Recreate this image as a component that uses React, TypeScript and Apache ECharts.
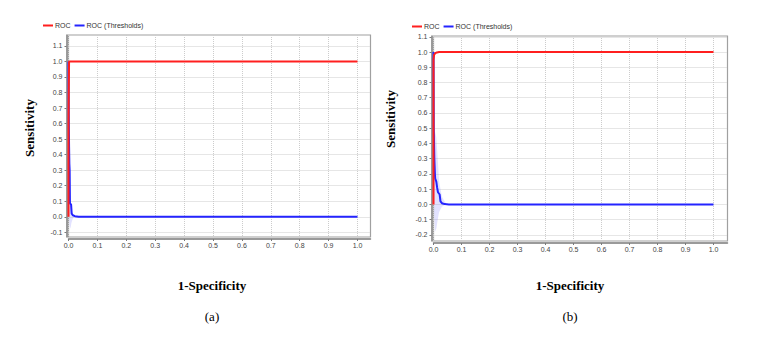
import { useEffect, useRef } from "react";
import * as echarts from "echarts";

// ---- tick labels ----
const xTickValues = [0.0, 0.1, 0.2, 0.3, 0.4, 0.5, 0.6, 0.7, 0.8, 0.9, 1.0];
const yTickValuesA = [-0.1, 0.0, 0.1, 0.2, 0.3, 0.4, 0.5, 0.6, 0.7, 0.8, 0.9, 1.0, 1.1];
const yTickValuesB = [-0.2, -0.1, 0.0, 0.1, 0.2, 0.3, 0.4, 0.5, 0.6, 0.7, 0.8, 0.9, 1.0, 1.1];

const seriesNames = ["ROC", "ROC (Thresholds)"];

// ---- chart (a) ----
const rocAX = [0, 0, 0.001, 0.002, 1.0];
const rocAY = [0, 0.6, 0.84, 1.0, 1.0];
const thrAX = [0, 0.001, 0.002, 0.003, 0.004, 0.005, 0.006, 0.009, 0.011, 0.015, 0.022, 0.035, 1.0];
const thrAY = [1.0, 0.63, 0.45, 0.34, 0.3, 0.09, 0.085, 0.078, 0.02, 0.01, 0.004, 0, 0];
const bandAX = [0.002, 0.004, 0.007, 0.01, 0.014, 0.02];
const bandAUpper = [0.15, 0.12, 0.1, 0.06, 0.02, 0.005];
const bandALower = [-0.01, -0.06, -0.075, -0.04, -0.015, 0];

// ---- chart (b) ----
const rocBX = [0, 0, 0.002, 0.006, 0.012, 0.02, 1.0];
const rocBY = [0, 0.95, 0.98, 0.992, 0.997, 1.0, 1.0];
const thrBX = [0, 0.001, 0.003, 0.005, 0.006, 0.01, 0.013, 0.016, 0.022, 0.025, 0.03, 0.04, 0.055, 1.0];
const thrBY = [1.0, 0.5, 0.3, 0.2, 0.17, 0.15, 0.11, 0.08, 0.065, 0.02, 0.008, 0.002, 0, 0];
const bandBX = [0.002, 0.005, 0.01, 0.015, 0.02, 0.03, 0.045];
const bandBUpper = [0.45, 0.48, 0.44, 0.3, 0.15, 0.05, 0.005];
const bandBLower = [-0.05, -0.18, -0.16, -0.1, -0.05, -0.015, 0];

const RED = "#ff1f1f";
const BLUE = "#2424ff";

function pairs(xs: number[], ys: number[]) {
  return xs.map((x, i) => [x, ys[i]]);
}

function bandSeries(xs: number[], up: number[], lo: number[], idx: number) {
  return {
    type: "custom",
    name: "band",
    xAxisIndex: idx,
    yAxisIndex: idx,
    silent: true,
    z: 1,
    data: [[xs[0], up[0]]],
    renderItem: (_p: any, api: any) => {
      const pts: number[][] = [];
      for (let i = 0; i < xs.length; i++) pts.push(api.coord([xs[i], up[i]]));
      for (let i = xs.length - 1; i >= 0; i--) pts.push(api.coord([xs[i], lo[i]]));
      return {
        type: "polygon",
        shape: { points: pts },
        style: { fill: "rgba(110,110,255,0.2)", stroke: "none" },
      };
    },
  };
}

function lineSeries(name: string, xs: number[], ys: number[], color: string, idx: number, z: number) {
  return {
    type: "line",
    name,
    xAxisIndex: idx,
    yAxisIndex: idx,
    data: pairs(xs, ys),
    showSymbol: false,
    symbol: "none",
    z,
    itemStyle: { color },
    lineStyle: { color, width: 2 },
  };
}

const axisLineStyle = { color: "#7a7a7a", width: 1.5 };
const labelStyle = { fontSize: 7, color: "#444", fontFamily: "Liberation Sans" };
const splitStyle = { show: true, lineStyle: { color: "#cccccc", type: "dotted" as const, width: 1 } };

function xAxisCfg(gridIndex: number, max: number) {
  return {
    type: "value",
    gridIndex,
    min: 0,
    max,
    offset: 2,
    axisLine: { show: true, onZero: false, lineStyle: axisLineStyle },
    axisTick: { show: true, length: 2, lineStyle: { color: "#7a7a7a" }, customValues: xTickValues },
    axisLabel: { ...labelStyle, margin: 3, customValues: xTickValues, formatter: (v: number) => v.toFixed(1) },
    splitLine: splitStyle,
  };
}

function yAxisCfg(gridIndex: number, min: number, max: number, ticks: number[]) {
  return {
    type: "value",
    gridIndex,
    min,
    max,
    offset: 2,
    axisLine: { show: true, onZero: false, lineStyle: axisLineStyle },
    axisTick: { show: true, length: 2, lineStyle: { color: "#7a7a7a" }, customValues: ticks },
    axisLabel: { ...labelStyle, margin: 4, customValues: ticks, formatter: (v: number) => v.toFixed(1) },
    splitLine: splitStyle,
  };
}

function textEl(text: string, x: number, y: number, font: string, rotation = 0) {
  return {
    type: "text",
    x,
    y,
    rotation,
    style: { text, font, fill: "#000", align: "center", verticalAlign: "middle" },
  };
}

export default function App() {
  const ref = useRef<HTMLDivElement>(null);
  useEffect(() => {
    if (!ref.current) return;
    const chart = echarts.init(ref.current, undefined, { renderer: "svg" });
    const titleFont = 'bold 13px "Liberation Serif", "Times New Roman", serif';
    const capFont = '13px "Liberation Serif", "Times New Roman", serif';
    chart.setOption({
      animation: false,
      backgroundColor: "#fff",
      legend: [
        {
          left: 43,
          top: 22,
          data: seriesNames,
          icon: "rect",
          itemWidth: 10,
          itemHeight: 2,
          itemGap: 4,
          textStyle: { fontSize: 7, color: "#333", fontFamily: "Liberation Sans", padding: [0, 0, 0, -3] },
          padding: 0,
        },
        {
          left: 412,
          top: 23,
          data: seriesNames,
          icon: "rect",
          itemWidth: 10,
          itemHeight: 2,
          itemGap: 4,
          textStyle: { fontSize: 7, color: "#333", fontFamily: "Liberation Sans", padding: [0, 0, 0, -3] },
          padding: 0,
        },
      ],
      grid: [
        { left: 68.5, top: 35, width: 302, height: 202, show: true, borderColor: "#a0a0a0", borderWidth: 1.2, backgroundColor: "#fff" },
        { left: 433.5, top: 36, width: 294, height: 205, show: true, borderColor: "#a0a0a0", borderWidth: 1.2, backgroundColor: "#fff" },
      ],
      xAxis: [xAxisCfg(0, 1.045), xAxisCfg(1, 1.05)],
      yAxis: [yAxisCfg(0, -0.13, 1.17, yTickValuesA), yAxisCfg(1, -0.24, 1.105, yTickValuesB)],
      series: [
        bandSeries(bandAX, bandAUpper, bandALower, 0),
        lineSeries(seriesNames[1], thrAX, thrAY, BLUE, 0, 2),
        lineSeries(seriesNames[0], rocAX, rocAY, RED, 0, 3),
        bandSeries(bandBX, bandBUpper, bandBLower, 1),
        lineSeries(seriesNames[1], thrBX, thrBY, BLUE, 1, 2),
        lineSeries(seriesNames[0], rocBX, rocBY, RED, 1, 3),
      ],
      graphic: [
        textEl("Sensitivity", 29.5, 128, titleFont, Math.PI / 2),
        textEl("Sensitivity", 390, 119, titleFont, Math.PI / 2),
        textEl("1-Specificity", 212, 285.5, titleFont),
        textEl("1-Specificity", 570, 285.5, titleFont),
        textEl("(a)", 212, 316.5, capFont),
        textEl("(b)", 570, 316.5, capFont),
      ],
    });
    return () => chart.dispose();
  }, []);
  return (
    <div
      ref={ref}
      style={{ position: "fixed", left: 0, top: 0, width: 763, height: 340, background: "#fff" }}
    />
  );
}
